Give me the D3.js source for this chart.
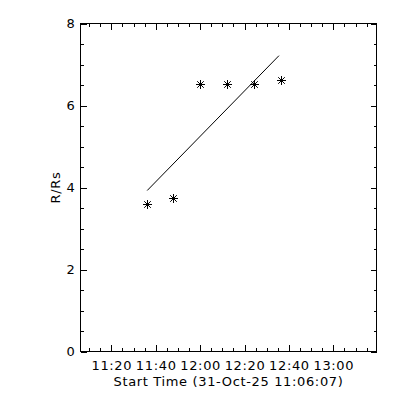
<!DOCTYPE html>
<html>
<head>
<meta charset="utf-8">
<script src="https://cdn.jsdelivr.net/npm/d3@7"></script>
<style>
  body { margin: 0; background: #fff; }
  svg { display: block; }
  text { font-family: "DejaVu Sans", sans-serif; font-size: 13px; letter-spacing: 0.65px; fill: #000; }
</style>
</head>
<body>
<div id="chart"></div>
<script>
// start time of the plot, times of the points (31-Oct-25)
var startTime = "2025-10-31T11:06:07Z";
var obsTimes = ["11:36:10", "11:47:52", "12:00:10", "12:12:12", "12:24:11", "12:36:31"];
var heights = [3.60, 3.74, 6.53, 6.53, 6.53, 6.61];   // R/Rs
var yTicks = [0, 2, 4, 6, 8];
var xTickLabels = ["11:20", "11:40", "12:00", "12:20", "12:40", "13:00"];

var width = 400, height = 400;
var boxL = 80.5, boxR = 376.5, boxT = 23.5, boxB = 351.5;

var t0 = new Date(startTime);
function toDate(hms) { return new Date("2025-10-31T" + hms + "Z"); }

var x = d3.scaleUtc().domain([t0, new Date(t0.getTime() + 8000 * 1000)]).range([boxL, boxR]);
var y = d3.scaleLinear().domain([0, 8]).range([boxB, boxT]);

var svg = d3.select("#chart").append("svg").attr("width", width).attr("height", height);

var pts = obsTimes.map(function(t, i) { return {t: toDate(t), r: heights[i]}; });

// least squares fit of R/Rs against time
var xs = pts.map(function(p) { return (p.t - t0) / 1000; });
var mx = d3.mean(xs), my = d3.mean(heights);
var sxy = 0, sxx = 0;
xs.forEach(function(v, i) { sxy += (v - mx) * (heights[i] - my); sxx += (v - mx) * (v - mx); });
var slope = sxy / sxx;
function fit(s) { return my + slope * (s - mx); }
var fitLine = [d3.min(xs), d3.max(xs) - 60].map(function(s) {
    return {t: new Date(t0.getTime() + s * 1000), r: fit(s)};
});

// box
svg.append("rect").attr("x", boxL).attr("y", boxT)
    .attr("width", boxR - boxL).attr("height", boxB - boxT)
    .attr("fill", "none").attr("stroke", "#000").attr("shape-rendering", "crispEdges");

// x ticks
var majorX = xTickLabels.map(function(s) { return toDate(s + ":00"); });
var minorX = d3.utcMinute.every(5).range(x.domain()[0], x.domain()[1]).filter(function(d) {
    return d.getUTCMinutes() % 20 != 0;
});
var axB = svg.append("g").attr("transform", "translate(0," + boxB + ")")
    .call(d3.axisBottom(x).tickValues(majorX).tickSize(-6.5)
        .tickFormat(d3.utcFormat("%H:%M")));
var axT = svg.append("g").attr("transform", "translate(0," + boxT + ")")
    .call(d3.axisTop(x).tickValues(majorX).tickSize(-6.5).tickFormat(""));
var axBm = svg.append("g").attr("transform", "translate(0," + boxB + ")")
    .call(d3.axisBottom(x).tickValues(minorX).tickSize(-3.3).tickFormat(""));
var axTm = svg.append("g").attr("transform", "translate(0," + boxT + ")")
    .call(d3.axisTop(x).tickValues(minorX).tickSize(-3.3).tickFormat(""));

// y ticks
var minorY = d3.range(0.5, 8, 0.5).filter(function(v) { return v % 2 != 0; });
var axL = svg.append("g").attr("transform", "translate(" + boxL + ",0)")
    .call(d3.axisLeft(y).tickValues(yTicks).tickSize(-6).tickPadding(5).tickFormat(d3.format("d")));
var axR = svg.append("g").attr("transform", "translate(" + boxR + ",0)")
    .call(d3.axisRight(y).tickValues(yTicks).tickSize(-6).tickFormat(""));
var axLm = svg.append("g").attr("transform", "translate(" + boxL + ",0)")
    .call(d3.axisLeft(y).tickValues(minorY).tickSize(-3).tickFormat(""));
var axRm = svg.append("g").attr("transform", "translate(" + boxR + ",0)")
    .call(d3.axisRight(y).tickValues(minorY).tickSize(-3).tickFormat(""));

[axB, axT, axBm, axTm, axL, axR, axLm, axRm].forEach(function(g) {
    g.select(".domain").remove();
    g.selectAll("line").attr("stroke", "#000").attr("shape-rendering", "crispEdges");
    g.selectAll("text").attr("font-family", null).attr("font-size", null);
});
axB.selectAll("text").attr("dy", null).attr("y", 18);

// titles
svg.append("text").attr("x", (boxL + boxR) / 2).attr("y", 386)
    .attr("text-anchor", "middle").text("Start Time (31-Oct-25 11:06:07)");
svg.append("text").attr("transform", "translate(60," + (boxT + boxB) / 2 + ") rotate(-90)")
    .attr("text-anchor", "middle").text("R/Rs");

// fit line
var line = d3.line().x(function(d) { return x(d.t); }).y(function(d) { return y(d.r); });
svg.append("path").datum(fitLine).attr("d", line)
    .attr("fill", "none").attr("stroke", "#000").attr("stroke-width", 1);

// asterisks
var s = 4.5, dgl = 3.3;
var star = "M" + (-s) + ",0H" + s + "M0," + (-s) + "V" + s +
    "M" + (-dgl) + "," + (-dgl) + "L" + dgl + "," + dgl +
    "M" + (-dgl) + "," + dgl + "L" + dgl + "," + (-dgl);
svg.selectAll("path.pt").data(pts).enter().append("path")
    .attr("class", "pt")
    .attr("transform", function(d) { return "translate(" + (Math.round(x(d.t)) + 0.5) + "," + (Math.round(y(d.r)) + 0.5) + ")"; })
    .attr("d", star).attr("stroke", "#000").attr("stroke-width", 1).attr("fill", "none");
</script>
</body>
</html>
